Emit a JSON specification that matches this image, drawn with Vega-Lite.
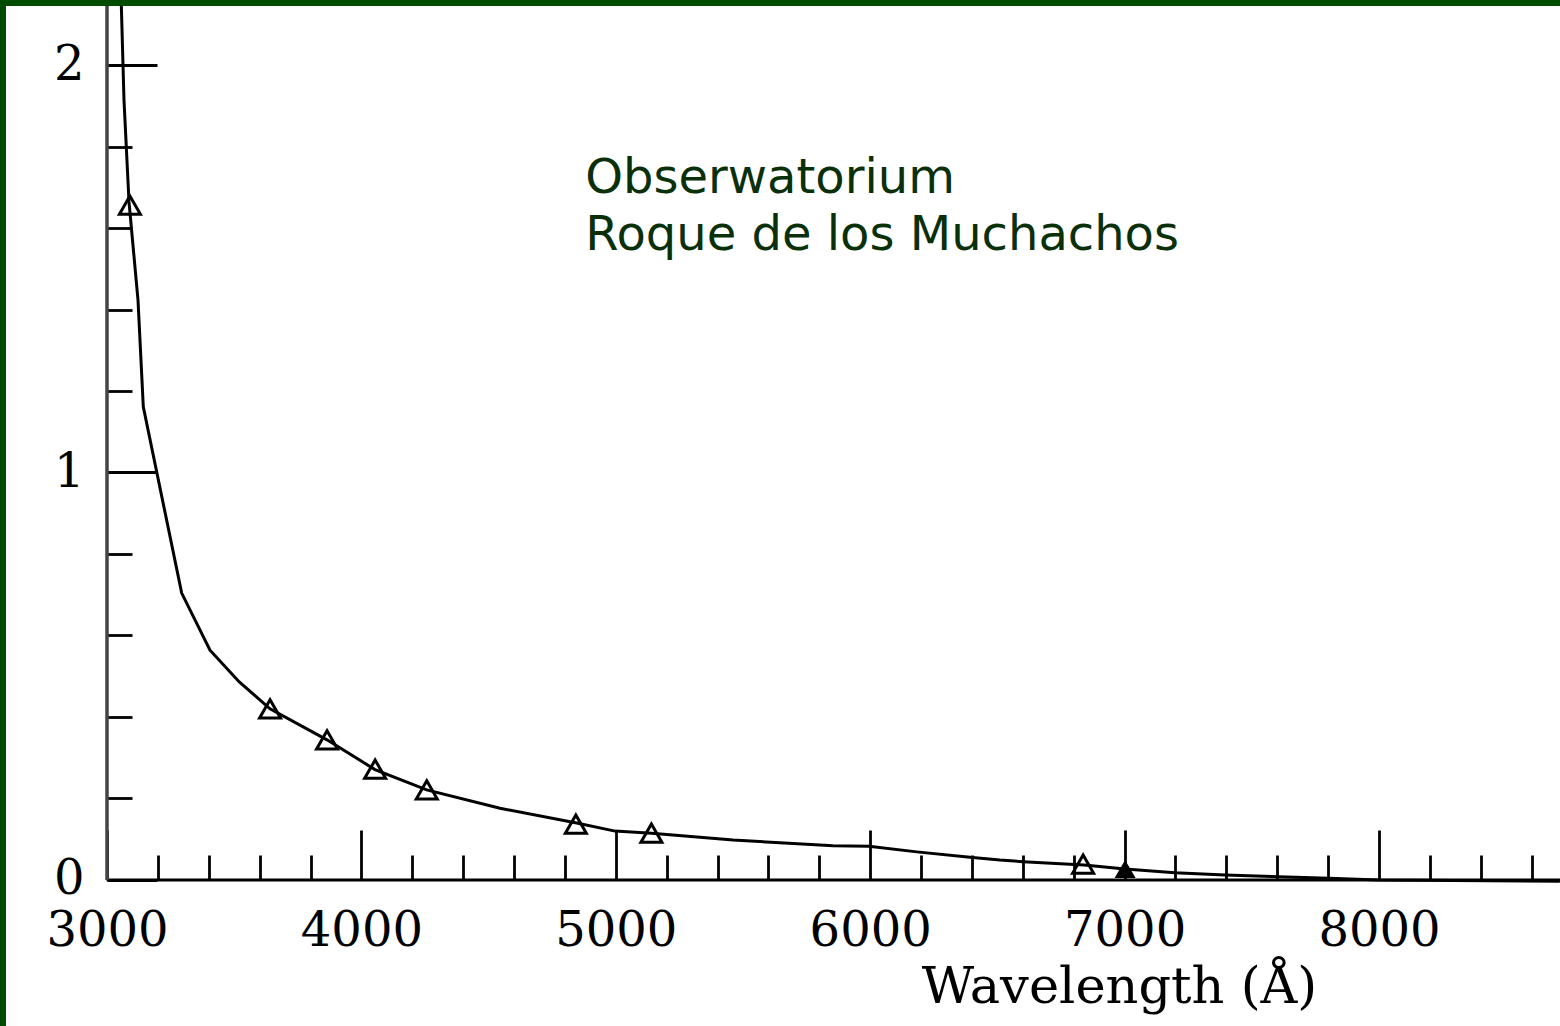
{
  "$schema": "https://vega.github.io/schema/vega-lite/v6.json",
  "width": 1554,
  "height": 1020,
  "autosize": {"type": "none"},
  "padding": {"left": 6, "top": 6, "right": 0, "bottom": 0},
  "background": "#004b00",
  "config": {"view": {"fill": "white", "stroke": null}},
  "datasets": {
    "curve": [
      {"lambda": 3053.5, "ext": 2.209},
      {"lambda": 3066.8, "ext": 1.914},
      {"lambda": 3086.5, "ext": 1.664},
      {"lambda": 3121.9, "ext": 1.423},
      {"lambda": 3142.7, "ext": 1.161},
      {"lambda": 3293.6, "ext": 0.704},
      {"lambda": 3404.9, "ext": 0.564},
      {"lambda": 3520, "ext": 0.486},
      {"lambda": 3640.8, "ext": 0.42},
      {"lambda": 3864.8, "ext": 0.344},
      {"lambda": 4053.5, "ext": 0.271},
      {"lambda": 4256.7, "ext": 0.221},
      {"lambda": 4544.9, "ext": 0.176},
      {"lambda": 4846.4, "ext": 0.14},
      {"lambda": 4997, "ext": 0.12},
      {"lambda": 5141, "ext": 0.115},
      {"lambda": 5461, "ext": 0.098},
      {"lambda": 5854, "ext": 0.084},
      {"lambda": 5995, "ext": 0.083},
      {"lambda": 6183, "ext": 0.069},
      {"lambda": 6392, "ext": 0.056},
      {"lambda": 6510, "ext": 0.049},
      {"lambda": 6601, "ext": 0.045},
      {"lambda": 6841, "ext": 0.037},
      {"lambda": 7002, "ext": 0.027},
      {"lambda": 7198, "ext": 0.018},
      {"lambda": 7395, "ext": 0.012},
      {"lambda": 7607, "ext": 0.008},
      {"lambda": 7803, "ext": 0.004},
      {"lambda": 8000, "ext": 0.0},
      {"lambda": 8711, "ext": -0.003}
    ],
    "observed": [
      {"lambda": 3090, "ext": 1.656, "kind": "open"},
      {"lambda": 3641, "ext": 0.42, "kind": "open"},
      {"lambda": 3865, "ext": 0.344, "kind": "open"},
      {"lambda": 4054, "ext": 0.272, "kind": "open"},
      {"lambda": 4257, "ext": 0.221, "kind": "open"},
      {"lambda": 4843, "ext": 0.137, "kind": "open"},
      {"lambda": 5140, "ext": 0.115, "kind": "open"},
      {"lambda": 6837, "ext": 0.039, "kind": "open"},
      {"lambda": 7002, "ext": 0.027, "kind": "filled"}
    ],
    "caption": [
      {"label": "Obserwatorium\nRoque de los Muchachos"}
    ]
  },
  "layer": [
    {
      "data": {"name": "curve"},
      "mark": {"type": "line", "color": "black", "strokeWidth": 3, "clip": true},
      "encoding": {
        "x": {
          "field": "lambda",
          "type": "quantitative",
          "scale": {"domain": [2603, 8711.5], "nice": false, "zero": false},
          "axis": {
            "values": [3000, 3200, 3400, 3600, 3800, 4000, 4200, 4400, 4600, 4800, 5000, 5200, 5400, 5600, 5800, 6000, 6200, 6400, 6600, 6800, 7000, 7200, 7400, 7600, 7800, 8000, 8200, 8400, 8600],
            "format": "d",
            "labelExpr": "datum.value % 1000 === 0 ? datum.label : ''",
            "domain": false,
            "grid": false,
            "offset": -146,
            "tickColor": "black",
            "tickWidth": 2.8,
            "tickSize": {"condition": {"test": "datum.value % 1000 === 0", "value": -50}, "value": -25},
            "labelFont": "DejaVu Serif",
            "labelFontSize": 48,
            "labelColor": "black",
            "labelPadding": 77,
            "labelOverlap": false,
            "labelFlush": false,
            "labelBound": false,
            "title": "Wavelength (Å)",
            "titleFont": "DejaVu Serif",
            "titleFontSize": 51,
            "titleFontWeight": "normal",
            "titleColor": "black",
            "titleAnchor": null,
            "titleAlign": "center",
            "titleBaseline": "alphabetic",
            "titleX": 1113,
            "titleY": 122
          }
        },
        "y": {
          "field": "ext",
          "type": "quantitative",
          "scale": {"domain": [-0.3583, 2.1448], "nice": false, "zero": false},
          "axis": {
            "values": [0, 0.2, 0.4, 0.6, 0.8, 1, 1.2, 1.4, 1.6, 1.8, 2],
            "format": "~g",
            "labelExpr": "datum.value === 0 || datum.value === 1 || datum.value === 2 ? datum.label : ''",
            "domain": false,
            "grid": false,
            "offset": -101,
            "tickColor": "black",
            "tickWidth": 2.8,
            "tickSize": {"condition": {"test": "datum.value === 0 || datum.value === 1 || datum.value === 2", "value": -50}, "value": -25},
            "labelFont": "DejaVu Serif",
            "labelFontSize": 48,
            "labelColor": "black",
            "labelPadding": 73,
            "labelOverlap": false,
            "labelFlush": false,
            "labelBound": false,
            "title": null
          }
        }
      }
    },
    {
      "data": {"values": [{}]},
      "mark": {"type": "rule", "color": "black", "strokeWidth": 3},
      "encoding": {
        "x": {"datum": 3000, "type": "quantitative"},
        "x2": {"datum": 8711.5},
        "y": {"datum": 0, "type": "quantitative"}
      }
    },
    {
      "data": {"values": [{}]},
      "mark": {"type": "rule", "color": "#444444", "strokeWidth": 3.5, "clip": true},
      "encoding": {
        "x": {"datum": 3000, "type": "quantitative"},
        "y": {"datum": 0, "type": "quantitative"},
        "y2": {"datum": 2.2}
      }
    },
    {
      "data": {"name": "observed"},
      "transform": [{"filter": "datum.kind === 'open'"}],
      "mark": {"type": "point", "shape": "triangle-up", "filled": false, "stroke": "black", "strokeWidth": 3, "size": 440, "opacity": 1},
      "encoding": {
        "x": {"field": "lambda", "type": "quantitative"},
        "y": {"field": "ext", "type": "quantitative"}
      }
    },
    {
      "data": {"name": "observed"},
      "transform": [{"filter": "datum.kind === 'filled'"}],
      "mark": {"type": "point", "shape": "triangle-up", "filled": true, "color": "black", "size": 440, "opacity": 1},
      "encoding": {
        "x": {"field": "lambda", "type": "quantitative"},
        "y": {"field": "ext", "type": "quantitative"}
      }
    },
    {
      "data": {"name": "caption"},
      "mark": {
        "type": "text",
        "font": "DejaVu Sans",
        "fontSize": 48,
        "lineHeight": 57,
        "lineBreak": "\n",
        "align": "left",
        "baseline": "alphabetic",
        "color": "#0a300a"
      },
      "encoding": {
        "x": {"datum": 4880, "type": "quantitative"},
        "y": {"datum": 1.686, "type": "quantitative"},
        "text": {"field": "label"}
      }
    }
  ]
}
